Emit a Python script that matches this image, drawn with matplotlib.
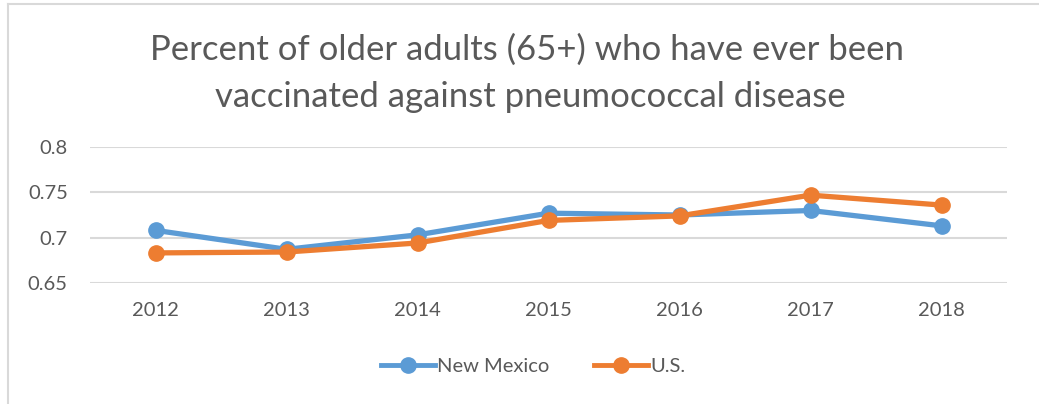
import matplotlib.pyplot as plt
from matplotlib.lines import Line2D

years = ['2012', '2013', '2014', '2015', '2016', '2017', '2018']
new_mexico = [0.708, 0.687, 0.703, 0.727, 0.725, 0.730, 0.713]
us = [0.683, 0.684, 0.694, 0.719, 0.724, 0.747, 0.736]
y_ticks = [0.65, 0.7, 0.75, 0.8]
y_tick_labels = ['0.65', '0.7', '0.75', '0.8']

plt.rcParams['font.family'] = ['Lato', 'DejaVu Sans']
text_grey = '#595959'
blue = '#5b9bd5'
orange = '#ed7d31'

fig = plt.figure(figsize=(10.39, 4.04), dpi=100)
ax = fig.add_axes([90 / 1039, 1 - 282.7 / 404, 917 / 1039, 135.4 / 404])

x = range(len(years))
ax.plot(x, new_mexico, color=blue, lw=3.8, marker='o', ms=11, label='New Mexico',
        solid_capstyle='round', zorder=3)
ax.plot(x, us, color=orange, lw=3.8, marker='o', ms=11, label='U.S.',
        solid_capstyle='round', zorder=4)

ax.set_xlim(-0.5, len(years) - 0.5)
ax.set_ylim(0.65, 0.8)
ax.set_xticks(list(x))
ax.set_xticklabels(years)
ax.set_yticks(y_ticks)
ax.set_yticklabels(y_tick_labels)
ax.tick_params(length=0, labelsize=14.5, labelcolor=text_grey)
ax.tick_params(axis='x', pad=14)
ax.tick_params(axis='y', pad=16)
ax.grid(axis='y', color='#d9d9d9', lw=1.5)
ax.set_axisbelow(True)
for s in ax.spines.values():
    s.set_visible(False)

fig.text(527 / 1039, 1 - 50 / 404, 'Percent of older adults (65+) who have ever been',
         ha='center', va='center', fontsize=25, color=text_grey)
fig.text(530 / 1039, 1 - 97 / 404, 'vaccinated against pneumococcal disease',
         ha='center', va='center', fontsize=25, color=text_grey)

# Legend
handles = [Line2D([0], [0], color=blue, lw=3.5, marker='o', ms=11),
           Line2D([0], [0], color=orange, lw=3.5, marker='o', ms=11)]
fig.legend(handles, ['New Mexico', 'U.S.'], loc='center', ncol=2,
           bbox_to_anchor=(533 / 1039, 1 - 366 / 404), frameon=False,
           fontsize=14.5, labelcolor=text_grey, handlelength=2.7,
           handletextpad=0.1, columnspacing=2.2)

# chart border (partial)
fig.add_artist(Line2D([8 / 1039, 8 / 1039], [0, 1 - 4 / 404], color='#d9d9d9', lw=1.5))
fig.add_artist(Line2D([8 / 1039, 1], [1 - 4 / 404, 1 - 4 / 404], color='#d9d9d9', lw=1.5))

fig.savefig('out.png', dpi=100)
